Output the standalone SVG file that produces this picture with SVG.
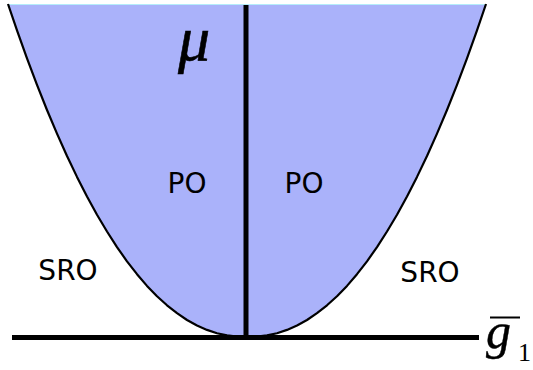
<svg xmlns="http://www.w3.org/2000/svg" width="533" height="370" viewBox="0 0 533 370">
<style>
.lbl{font-family:"DejaVu Sans",sans-serif;font-size:28px;fill:#000;text-anchor:middle}
.math{font-family:"Liberation Serif","DejaVu Serif",serif;font-style:italic;fill:#000}
.axis{stroke:#000;stroke-width:5;fill:none}
</style>
<g id="region">
<path d="M8,4 L17,30.4 L27,58.3 L37,84.9 L47,110 L57,133.6 L67,156 L77,176.9 L87,196.5 L97,214.7 L107,231.5 L117,247.1 L127,261.3 L137,274.2 L147,285.9 L157,296.2 L167,305.3 L177,313.2 L187,320 L197,325.5 L207,329.9 L217,333.2 L227,335.4 L237,336.6 L247,337 L257,336.6 L267,335.4 L277,333.2 L287,329.9 L297,325.5 L307,320 L317,313.2 L327,305.3 L337,296.2 L347,285.9 L357,274.2 L367,261.3 L377,247.1 L387,231.5 L397,214.7 L407,196.5 L417,176.9 L427,156 L437,133.6 L447,110 L457,84.9 L467,58.3 L477,30.4 L486,4 Z" fill="#aab2fa" stroke="none"/>
<line x1="8" y1="4.5" x2="486" y2="4.5" stroke="#b4ecfa" stroke-width="1"/>
<path d="M8,4 L17,30.4 L27,58.3 L37,84.9 L47,110 L57,133.6 L67,156 L77,176.9 L87,196.5 L97,214.7 L107,231.5 L117,247.1 L127,261.3 L137,274.2 L147,285.9 L157,296.2 L167,305.3 L177,313.2 L187,320 L197,325.5 L207,329.9 L217,333.2 L227,335.4 L237,336.6 L247,337 L257,336.6 L267,335.4 L277,333.2 L287,329.9 L297,325.5 L307,320 L317,313.2 L327,305.3 L337,296.2 L347,285.9 L357,274.2 L367,261.3 L377,247.1 L387,231.5 L397,214.7 L407,196.5 L417,176.9 L427,156 L437,133.6 L447,110 L457,84.9 L467,58.3 L477,30.4 L486,4" fill="none" stroke="#000" stroke-width="2.2" stroke-linejoin="round"/>
</g>
<g id="axes">
<line class="axis" x1="246" y1="5" x2="246" y2="340"/>
<line class="axis" x1="12" y1="337.5" x2="479" y2="337.5"/>
</g>
<g id="labels">
<text class="lbl" x="187" y="193">PO</text>
<text class="lbl" x="304" y="193">PO</text>
<text class="lbl" x="68" y="280">SRO</text>
<text class="lbl" x="430" y="281.5">SRO</text>
<text class="math" x="178" y="60" font-size="64" stroke="#000" stroke-width="0.6">μ</text>
<text class="math" x="486" y="348" font-size="50" stroke="#000" stroke-width="0.4">g</text>
<line x1="490" y1="317.5" x2="520" y2="317.5" stroke="#000" stroke-width="2"/>
<text x="518" y="361" font-family="Liberation Serif,serif" font-size="26">1</text>
</g>
</svg>
